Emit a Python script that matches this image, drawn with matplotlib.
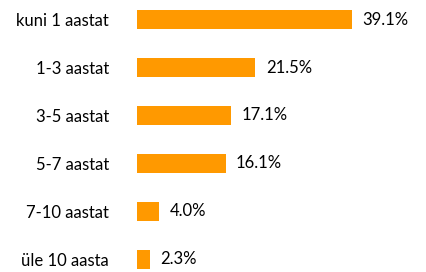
import matplotlib
matplotlib.use("Agg")
import matplotlib.pyplot as plt

categories = ["kuni 1 aastat", "1-3 aastat", "3-5 aastat", "5-7 aastat", "7-10 aastat", "üle 10 aasta"]
values = [39.1, 21.5, 17.1, 16.1, 4.0, 2.3]
value_labels = ["39.1%", "21.5%", "17.1%", "16.1%", "4.0%", "2.3%"]

plt.rcParams['font.family'] = ['Lato', 'DejaVu Sans']

W, H = 426, 272
fig = plt.figure(figsize=(W/100, H/100), dpi=100)
left_px = 137
ax = fig.add_axes([left_px/W, 0, 1 - left_px/W, 1])

y = list(range(len(categories)))
ax.barh(y, values, height=0.4, color="#FF9900", edgecolor="none")
ax.set_xlim(0, (W - left_px)/5.5)
ax.set_ylim((H - 19.5)/48, -19.5/48)

for yi, v, lab in zip(y, values, value_labels):
    ax.text(v + 1.9, yi, lab, va="center", ha="left", fontsize=12, color="#000000")

ax.set_yticks(y)
ax.set_yticklabels(categories, fontsize=12, color="#000000")
ax.tick_params(axis="y", length=0, pad=20)
ax.set_xticks([])
for s in ax.spines.values():
    s.set_visible(False)

fig.savefig("out.png", dpi=100)
